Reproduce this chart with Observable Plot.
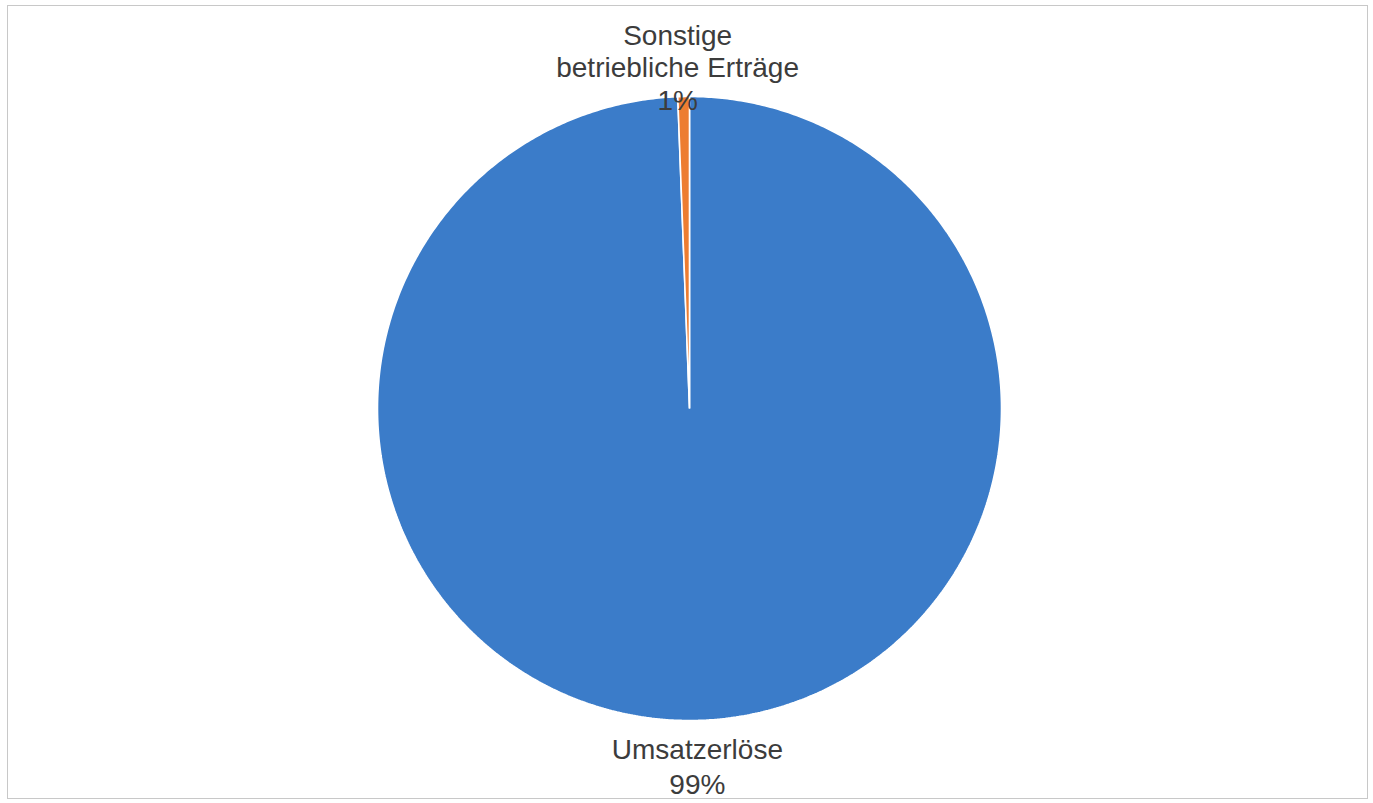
<!DOCTYPE html>
<html>
<head>
<meta charset="utf-8">
<script src="https://cdn.jsdelivr.net/npm/d3@7"></script>
<script src="https://cdn.jsdelivr.net/npm/@observablehq/plot@0.6"></script>
<style>
  html, body { margin: 0; padding: 0; background: #fff; }
  #wrap { position: relative; width: 1373px; height: 803px; }
  #border { position: absolute; left: 7px; top: 5px; width: 1361px; height: 794px; border: 1.5px solid #c8c8c8; box-sizing: border-box; pointer-events: none; }
</style>
</head>
<body>
<div id="wrap"><div id="border"></div></div>
<script>
// Data (order as in the source spreadsheet: first slice starts at 12 o'clock, clockwise)
const categories = ["Umsatzerlöse", "Sonstige betriebliche Erträge"];
const shares = [99.4, 0.6];
const labels = ["Umsatzerlöse\n99%", "Sonstige\nbetriebliche Erträge\n1%"];

// Build slice polygons (unit circle, angle clockwise from 12 o'clock)
const total = d3.sum(shares);
const polys = [];
const labelRows = [];
let acc = 0;
categories.forEach((c, i) => {
  const a0 = acc / total * 2 * Math.PI;
  acc += shares[i];
  const a1 = acc / total * 2 * Math.PI;
  polys.push({key: c, x: 0, y: 0});
  const n = Math.max(4, Math.ceil((a1 - a0) / (Math.PI / 360)));
  for (let k = 0; k <= n; ++k) {
    const a = a0 + (a1 - a0) * k / n;
    polys.push({key: c, x: Math.sin(a), y: Math.cos(a)});
  }
  const am = (a0 + a1) / 2;
  labelRows.push({key: c, text: labels[i], x: Math.sin(am), y: Math.cos(am), top: Math.cos(am) > 0});
});

const chart = Plot.plot({
  width: 1373,
  height: 803,
  marginLeft: 377,
  marginRight: 372,
  marginTop: 96,
  marginBottom: 83,
  x: {domain: [-1, 1], axis: null},
  y: {domain: [-1, 1], axis: null},
  color: {domain: categories, range: ["#3b7cc9", "#ed7d31"]},
  style: {fontFamily: "'Liberation Sans', Arial, sans-serif", background: "transparent", overflow: "visible"},
  marks: [
    Plot.line(polys, {x: "x", y: "y", z: "key", fill: "key", stroke: "white", strokeWidth: 1.6, curve: "linear-closed", strokeLinejoin: "miter"}),
    Plot.text(labelRows.filter(d => d.top), {x: "x", y: "y", text: "text", lineAnchor: "bottom", lineHeight: 1.16, dx: -6, dy: 13, fontSize: 28, fill: "#3c3c3c"}),
    Plot.text(labelRows.filter(d => !d.top), {x: "x", y: "y", text: "text", lineAnchor: "top", lineHeight: 1.25, dx: 2, dy: 14, fontSize: 28, fill: "#3c3c3c"})
  ]
});
chart.style.position = "absolute";
chart.style.left = "0px";
chart.style.top = "0px";
document.getElementById("wrap").appendChild(chart);
</script>
</body>
</html>
